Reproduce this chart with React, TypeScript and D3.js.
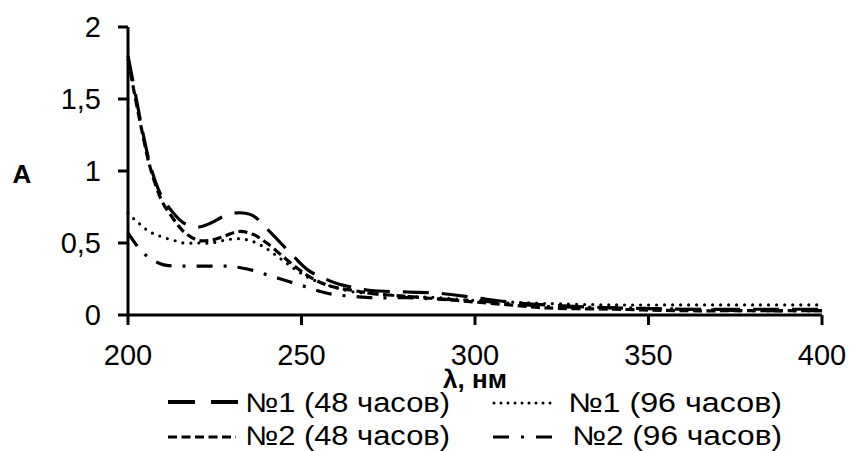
import React from "react";
import { scaleLinear, line, curveCatmullRom } from "d3";

const wavelengths = [200, 202, 204, 206, 208, 210, 213, 216, 220, 224, 228, 232, 236, 240, 244, 248, 252, 256, 260, 265, 270, 280, 290, 300, 310, 320, 340, 360, 380, 400];
const s1_48 = [1.8, 1.55, 1.3, 1.08, 0.92, 0.81, 0.71, 0.64, 0.61, 0.64, 0.69, 0.71, 0.69, 0.6, 0.5, 0.4, 0.31, 0.26, 0.22, 0.19, 0.17, 0.16, 0.15, 0.12, 0.09, 0.07, 0.05, 0.04, 0.04, 0.04];
const s1_96 = [0.71, 0.66, 0.62, 0.58, 0.56, 0.54, 0.52, 0.5, 0.5, 0.5, 0.52, 0.53, 0.51, 0.46, 0.39, 0.32, 0.26, 0.22, 0.19, 0.16, 0.15, 0.13, 0.12, 0.1, 0.09, 0.08, 0.07, 0.07, 0.07, 0.07];
const s2_48 = [1.78, 1.52, 1.28, 1.06, 0.9, 0.78, 0.67, 0.58, 0.52, 0.52, 0.55, 0.58, 0.56, 0.5, 0.42, 0.34, 0.27, 0.22, 0.19, 0.17, 0.15, 0.13, 0.11, 0.09, 0.07, 0.05, 0.04, 0.03, 0.03, 0.03];
const s2_96 = [0.57, 0.5, 0.44, 0.4, 0.37, 0.35, 0.34, 0.34, 0.34, 0.34, 0.34, 0.33, 0.31, 0.28, 0.25, 0.22, 0.19, 0.16, 0.14, 0.13, 0.12, 0.12, 0.11, 0.1, 0.08, 0.06, 0.05, 0.04, 0.03, 0.03];
const seriesNames = ["№1 (48 часов)", "№1 (96 часов)", "№2 (48 часов)", "№2 (96 часов)"];
const xTicks = [200, 250, 300, 350, 400];
const yTicks = [0, 0.5, 1, 1.5, 2];

// line styles: long dash, dotted, short dash, dash-dot
const dashes = ["26 13", "0 8", "9 4.5", "16 11 3 11"];
const legendDashes = ["27 16", "0 7", "9 4.5", "16 12 3 12"];
const caps = ["butt", "round", "butt", "butt"];

export default function App() {
  const width = 850, height = 451;
  const x = scaleLinear().domain([200, 400]).range([128, 822]);
  const y = scaleLinear().domain([0, 2]).range([315, 27]);
  const values = [s1_48, s1_96, s2_48, s2_96];

  const lineFn = line<number>()
    .x((d, i) => x(wavelengths[i]))
    .y((d) => y(d))
    .curve(curveCatmullRom);

  const fmt = (v: number) => String(v).replace(".", ",");
  const legendPos = [
    { x0: 168, x1: 238, ly: 402, tx: 245, ty: 412, w: 205 },
    { x0: 494, x1: 556, ly: 403, tx: 568, ty: 412, w: 214 },
    { x0: 168, x1: 236, ly: 437, tx: 245, ty: 445, w: 205 },
    { x0: 493, x1: 552, ly: 437, tx: 572, ty: 445, w: 210 },
  ];

  return (
    <svg width={width} height={height} style={{ position: "absolute", left: 0, top: 0, fontFamily: "'Liberation Sans', Arial, sans-serif" }}>
      <rect width={width} height={height} fill="#fff" />
      {values.map((vals, k) => (
        <path key={k} d={lineFn(vals) || ""} fill="none" stroke="#000" strokeWidth={3.2}
          strokeDasharray={dashes[k]} strokeLinecap={caps[k] as any} />
      ))}
      <line x1={x(200)} x2={x(200)} y1={y(2)} y2={y(0)} stroke="#000" strokeWidth={3} />
      <line x1={x(200)} x2={x(400)} y1={y(0)} y2={y(0)} stroke="#000" strokeWidth={3} />
      {yTicks.map((t) => (
        <g key={t}>
          <line x1={x(200) - 10} x2={x(200)} y1={y(t)} y2={y(t)} stroke="#000" strokeWidth={3} />
          <text x={101} y={y(t)} dy="0.36em" textAnchor="end" fontSize={29}>{fmt(t)}</text>
        </g>
      ))}
      {xTicks.map((t) => (
        <g key={t}>
          <line x1={x(t)} x2={x(t)} y1={y(0)} y2={y(0) + 10} stroke="#000" strokeWidth={3} />
          <text x={x(t)} y={365} textAnchor="middle" fontSize={29}>{t}</text>
        </g>
      ))}
      <text x={22} y={183} textAnchor="middle" fontSize={26} fontWeight="bold">A</text>
      <text x={475} y={388} textAnchor="middle" fontSize={26} fontWeight="bold">λ, нм</text>
      {seriesNames.map((name, k) => {
        const p = legendPos[k];
        return (
          <g key={name}>
            <line x1={p.x0} x2={p.x1} y1={p.ly} y2={p.ly} stroke="#000" strokeWidth={k === 0 ? 3.8 : 3}
              strokeDasharray={legendDashes[k]} strokeLinecap={caps[k] as any} />
            <text x={p.tx} y={p.ty} fontSize={27} textLength={p.w} lengthAdjust="spacingAndGlyphs">{name}</text>
          </g>
        );
      })}
    </svg>
  );
}
